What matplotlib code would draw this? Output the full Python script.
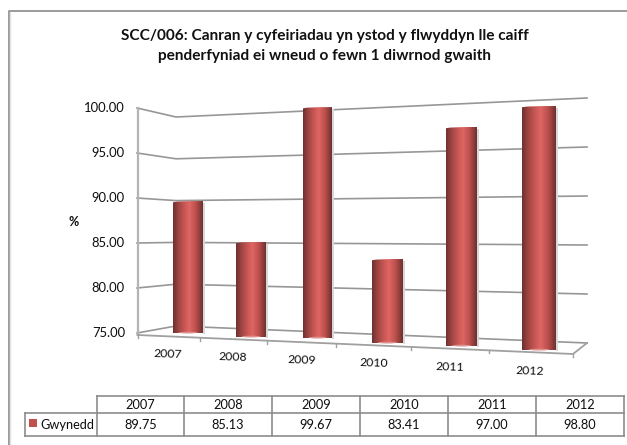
import numpy as np
import matplotlib
matplotlib.use("Agg")
import matplotlib.pyplot as plt
from matplotlib.colors import LinearSegmentedColormap
from matplotlib.patches import Ellipse, PathPatch, Rectangle
from matplotlib.path import Path

plt.rcParams["font.family"] = ["Lato", "DejaVu Sans"]

TITLE = "SCC/006: Canran y cyfeiriadau yn ystod y flwyddyn lle caiff\npenderfyniad ei wneud o fewn 1 diwrnod gwaith"
SERIES = "Gwynedd"
years = ["2007", "2008", "2009", "2010", "2011", "2012"]
values = [89.75, 85.13, 99.67, 83.41, 97.00, 98.80]
y_ticks = [75, 80, 85, 90, 95, 100]

# layout of the fake 3d box, in pixels of the 627x445 picture
Y_MIN, Y_MAX = 75, 100
BAR_LEFT = [173, 236, 303, 372, 446, 522]
BAR_RIGHT = [203, 266, 332, 403, 477, 556]
BAR_BASE = [332, 336, 337, 342, 345, 349]
BAR_SCALE = [8.88, 9.28, 9.32, 9.87, 9.91, 10.21]
WALL_X = [137, 176, 587]
WALL_LOW = [333, 326, 343]
WALL_HIGH = [108, 117, 98]
LABEL_POS = [(168, 354), (233, 357), (302, 360), (374, 363), (450, 367), (530, 371)]
FLOOR_TICKS = [137.5, 200, 267, 336, 411, 489, 573]
TABLE_X = [97, 184, 272, 360, 448, 535.5, 624]

GRID = "#979797"
TEXT = "#0d0d0d"
bar_cmap = LinearSegmentedColormap.from_list("cyl", [
    (0.0, "#6f3130"), (0.18, "#a04543"), (0.42, "#cf5a57"), (0.55, "#de6664"),
    (0.78, "#b94e4b"), (1.0, "#6e3130")])
gradient = np.linspace(0, 1, 64).reshape(1, -1)

fig = plt.figure(figsize=(6.27, 4.45), dpi=100)
ax = fig.add_axes([0, 0, 1, 1])
ax.axis("off")


def wall_y(v):
    t = (v - Y_MIN) / (Y_MAX - Y_MIN)
    return [lo + (hi - lo) * t for lo, hi in zip(WALL_LOW, WALL_HIGH)]


# chart border, only left and top show in the crop
ax.plot([8.5, 8.5, 627], [445, 10.5, 10.5], color="#8a8a8a", lw=1.2, zorder=1)
ax.plot([10.2, 10.2], [12, 445], color="#e4e4e4", lw=1, zorder=1)

ax.text(325, 46, TITLE, ha="center", va="center", fontsize=11.1, fontweight="bold",
        color="#111111", linespacing=1.5)

# gridlines on side wall and back wall
for v in y_ticks:
    ax.plot(WALL_X, wall_y(v), color=GRID, lw=1.2, zorder=2)
    ax.text(125, wall_y(v)[0], f"{v:.2f}", ha="right", va="center", fontsize=9.4, color=TEXT)
ax.text(74, 222, "%", ha="center", va="center", fontsize=9, fontweight="bold", color=TEXT)

# floor and axis lines
ax.plot([137.5, 137.5], [108, 335], color="#b4b4b4", lw=1.6, zorder=2)
ax.plot([137.5, 573, 587], [335, 354, 343], color="#a0a0a0", lw=1.3, zorder=2)
for x in FLOOR_TICKS:
    y = 335 + (x - 137.5) * (354 - 335) / (573 - 137.5)
    ax.plot([x, x], [y, y + 3], color="#a0a0a0", lw=1, zorder=2)

# cylinders
for i, v in enumerate(values):
    x0, x1 = BAR_LEFT[i], BAR_RIGHT[i]
    base = BAR_BASE[i]
    top = base - (v - Y_MIN) * BAR_SCALE[i]
    cap = 1.5
    shape = Path([(x0, top + cap), (x0, top), (x1, top), (x1, top + cap),
                  (x1, base - cap), (x1, base + cap), (x0, base + cap), (x0, base - cap),
                  (x0, top + cap)],
                 [Path.MOVETO, Path.CURVE3, Path.CURVE3, Path.LINETO,
                  Path.LINETO, Path.LINETO, Path.LINETO, Path.LINETO, Path.CLOSEPOLY])
    clip = PathPatch(shape, transform=ax.transData, fc="none", ec="none")
    ax.add_patch(clip)
    im = ax.imshow(gradient, extent=(x0, x1, base + cap, top), aspect="auto",
                   cmap=bar_cmap, zorder=4, interpolation="bilinear")
    im.set_clip_path(clip)
    ax.add_patch(Ellipse(((x0 + x1) / 2, base + 0.6), (x1 - x0) * 0.6, 1.8,
                         fc="#dc8f8d", ec="none", zorder=5))
    ax.add_patch(Rectangle((x1, top + 2), 1.5, base - top, fc="#d8d8d8", ec="none", zorder=3))

for label, (lx, ly) in zip(years, LABEL_POS):
    ax.text(lx, ly, label, ha="center", va="center", fontsize=8.8, color=TEXT, rotation=-2)

# data table under the chart
line = dict(color="#8c8c8c", lw=1.2, zorder=2)
ax.plot([TABLE_X[0], TABLE_X[-1]], [395.5, 395.5], **line)
ax.plot([24.5, TABLE_X[-1]], [413, 413], **line)
ax.plot([24.5, TABLE_X[-1]], [436, 436], **line)
ax.plot([24.5, 24.5], [413, 436], **line)
for x in TABLE_X:
    ax.plot([x, x], [395.5, 436], **line)
for i, (year, v) in enumerate(zip(years, values)):
    cx = (TABLE_X[i] + TABLE_X[i + 1]) / 2
    ax.text(cx, 405, year, ha="center", va="center", fontsize=9.2, color=TEXT)
    ax.text(cx, 425, f"{v:.2f}", ha="center", va="center", fontsize=9.2, color=TEXT)
ax.add_patch(Rectangle((29, 419), 8, 8, fc="#c0504d", ec="none", zorder=3))
ax.text(40, 425, SERIES, ha="left", va="center", fontsize=9.2, color=TEXT)

ax.set_xlim(0, 627)
ax.set_ylim(445, 0)

fig.savefig("out.png", dpi=100, facecolor="white")
